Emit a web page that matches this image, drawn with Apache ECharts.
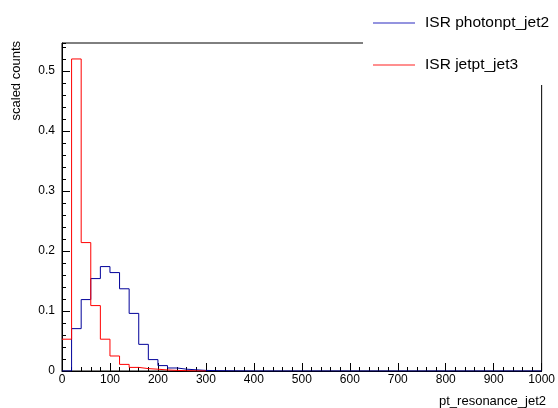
<!DOCTYPE html>
<html>
<head>
<meta charset="utf-8">
<script src="https://cdn.jsdelivr.net/npm/echarts@6/dist/echarts.min.js"></script>
<style>
html,body{margin:0;padding:0;background:#fff;}
#chart{width:558px;height:408px;}
</style>
</head>
<body>
<div id="chart"></div>
<script>
// Histogram binning: 50 bins of width 20 from 0 to 1000
const binWidth = 20;
const seriesNames = ['ISR photonpt_jet2', 'ISR jetpt_jet3'];
const photonptJet2 = [0, 0.0706, 0.119, 0.154, 0.174, 0.164, 0.137, 0.096, 0.0444, 0.019,
  0.009, 0.005, 0.003, 0.002, 0.001, 0.0006, 0.0004, 0.0002, 0.0001, 0,
  0, 0, 0, 0, 0, 0, 0, 0, 0, 0, 0, 0, 0, 0, 0, 0, 0, 0, 0, 0,
  0, 0, 0, 0, 0, 0, 0, 0, 0, 0];
const jetptJet3 = [0.053, 0.520, 0.214, 0.109, 0.053, 0.025, 0.011, 0.006, 0.004, 0.003,
  0.0017, 0.001, 0.0005, 0.0002, 0, 0, 0, 0, 0, 0,
  0, 0, 0, 0, 0, 0, 0, 0, 0, 0, 0, 0, 0, 0, 0, 0, 0, 0, 0, 0,
  0, 0, 0, 0, 0, 0, 0, 0, 0, 0];
const xTicks = [0, 100, 200, 300, 400, 500, 600, 700, 800, 900, 1000];
const yTicks = [0, 0.1, 0.2, 0.3, 0.4, 0.5];
const xTitle = 'pt_resonance_jet2';
const yTitle = 'scaled counts';

// build step outline points from bin contents; optionally stop after the last non-empty bin
function stepData(vals, trimTail) {
  let n = vals.length;
  if (trimTail) {
    while (n > 0 && vals[n - 1] === 0) n--;
    n = Math.min(vals.length, n + 1);
  }
  const d = [];
  for (let i = 0; i < n; i++) d.push([i * binWidth, vals[i]]);
  d.push([n * binWidth, vals[n - 1]]);
  return d;
}

const FONT = "'Liberation Sans', Arial, sans-serif";
const chart = echarts.init(document.getElementById('chart'), null, {renderer: 'canvas'});
const yMax = 0.5466;
chart.setOption({
  animation: false,
  backgroundColor: '#fff',
  textStyle: {fontFamily: FONT},
  grid: {left: 62, right: 12, top: 43, bottom: 37, show: true, borderColor: '#000', borderWidth: 1, backgroundColor: 'transparent'},
  xAxis: {
    type: 'value', min: xTicks[0], max: xTicks[xTicks.length - 1], interval: 100,
    axisLine: {lineStyle: {color: '#000', width: 1}},
    axisTick: {inside: true, length: 8, lineStyle: {color: '#000'}},
    minorTick: {show: true, splitNumber: 5, length: 4, lineStyle: {color: '#000'}},
    axisLabel: {color: '#000', fontSize: 12, margin: 3, fontFamily: FONT, formatter: v => String(v)},
    splitLine: {show: false}
  },
  yAxis: [{
    type: 'value', min: 0, max: yMax, interval: 0.1, position: 'left',
    axisLine: {show: true, lineStyle: {color: '#000', width: 1}},
    axisTick: {inside: true, length: 8, lineStyle: {color: '#000'}},
    axisLabel: {color: '#000', fontSize: 12, margin: 7, showMaxLabel: false, fontFamily: FONT,
      formatter: v => (yTicks.some(t => Math.abs(t - v) < 1e-9) ? String(v) : '')},
    splitLine: {show: false}
  }, {
    type: 'value', min: 0, max: yMax, interval: 0.02, position: 'left',
    axisLine: {show: false},
    axisTick: {inside: true, length: 4, lineStyle: {color: '#000'}},
    axisLabel: {show: false},
    splitLine: {show: false}
  }],
  legend: {
    orient: 'vertical', left: 368, top: 10, z: 10,
    icon: 'rect', itemWidth: 42, itemHeight: 1.2, itemGap: 26,
    textStyle: {fontSize: 15.5, color: '#000', fontFamily: FONT, padding: [0, 0, 0, 5]},
    data: seriesNames
  },
  graphic: [
    {type: 'rect', z: 5, shape: {x: 363, y: 0, width: 195, height: 85}, style: {fill: '#fff'}},
    {type: 'text', x: 546, y: 401, style: {text: xTitle, align: 'right', verticalAlign: 'middle', fontSize: 13, fontFamily: FONT, fill: '#000'}},
    {type: 'text', x: 16, y: 41, rotation: Math.PI / 2, style: {text: yTitle, align: 'right', verticalAlign: 'middle', fontSize: 13, fontFamily: FONT, fill: '#000'}}
  ],
  series: [{
    name: seriesNames[0], type: 'line', step: 'end', symbol: 'none', showSymbol: false,
    data: stepData(photonptJet2, false), yAxisIndex: 0,
    lineStyle: {color: '#000099', width: 1}, itemStyle: {color: '#2a2ac0'}
  }, {
    name: seriesNames[1], type: 'line', step: 'end', symbol: 'none', showSymbol: false,
    data: stepData(jetptJet3, true), yAxisIndex: 0,
    lineStyle: {color: '#ff0000', width: 1}, itemStyle: {color: '#ff2020'}
  }]
});
</script>
</body>
</html>
